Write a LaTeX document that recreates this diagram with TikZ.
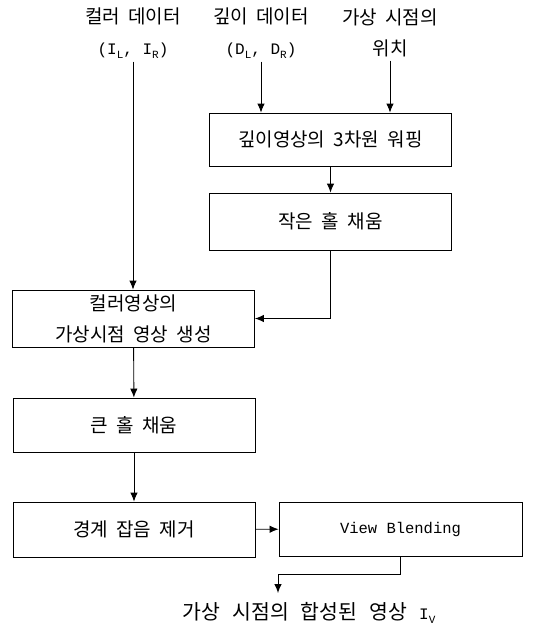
\documentclass[tikz,border=0pt]{standalone}
\usepackage{fontspec}
\usetikzlibrary{arrows.meta}
\setmainfont[WordSpace=2]{Noto Sans CJK KR}
\newfontfamily\latmono{Liberation Mono}
\newcommand{\lsub}[1]{\raisebox{-0.4ex}{\fontsize{11}{11}\selectfont #1}}

\begin{document}
\begin{tikzpicture}[x=1pt, y=-1pt,
    blk/.style={draw, line width=0.9pt, minimum width=242pt, minimum height=55pt,
                align=center, inner sep=0pt},
    arr/.style={-{Latex[length=9pt,width=7.5pt]}, line width=0.9pt},
    font=\fontsize{19}{31}\selectfont]
\useasboundingbox (0,0) rectangle (541,633);
\node[align=center] (clr) at (133,33) {컬러 데이터\\{\fontsize{16}{31}\selectfont\latmono (I\lsub{L}, I\lsub{R})}};
\node[align=center] (dep) at (261,33) {깊이 데이터\\{\fontsize{16}{31}\selectfont\latmono (D\lsub{L}, D\lsub{R})}};
\node[align=center] (pos) at (390,33) {가상 시점의\\위치};
\node[blk, minimum height=53pt] (warp) at (330.5,139.5) {깊이영상의 3차원 워핑};
\node[blk, minimum height=57pt] (hole) at (330.5,221.5) {작은 홀 채움};
\node[blk, minimum height=57pt] (vimg) at (133.5,318.5) {컬러영상의\\가상시점 영상 생성};
\node[blk, minimum height=54pt] (big) at (134,425) {큰 홀 채움};
\node[blk] (noise) at (134,529.5) {경계 잡음 제거};
\node[blk, minimum width=243pt, minimum height=54pt] (blend) at (400.5,529)
    {\fontsize{15.5}{18}\selectfont\latmono View Blending};
\node (out) at (309,613) {\fontsize{20.5}{24}\selectfont\spaceskip=12pt 가상 시점의 합성된 영상 {\fontsize{16}{18}\selectfont\latmono I\lsub{V}}};
\coordinate (turn) at (278,574);
\coordinate (tip) at (278,593);
\draw[arr] (clr.south) -- (clr.south |- vimg.north);
\draw[arr] (dep.south) -- (dep.south |- warp.north);
\draw[arr] (pos.south) -- (pos.south |- warp.north);
\draw[arr] (warp) -- (hole);
\draw[arr] (hole.south) |- (vimg.east);
\draw[arr] (vimg) -- (big);
\draw[arr] (big) -- (noise);
\draw[arr] (noise) -- (blend);
\draw[arr] (blend.south) |- (turn) -- (tip);
\end{tikzpicture}
\end{document}
